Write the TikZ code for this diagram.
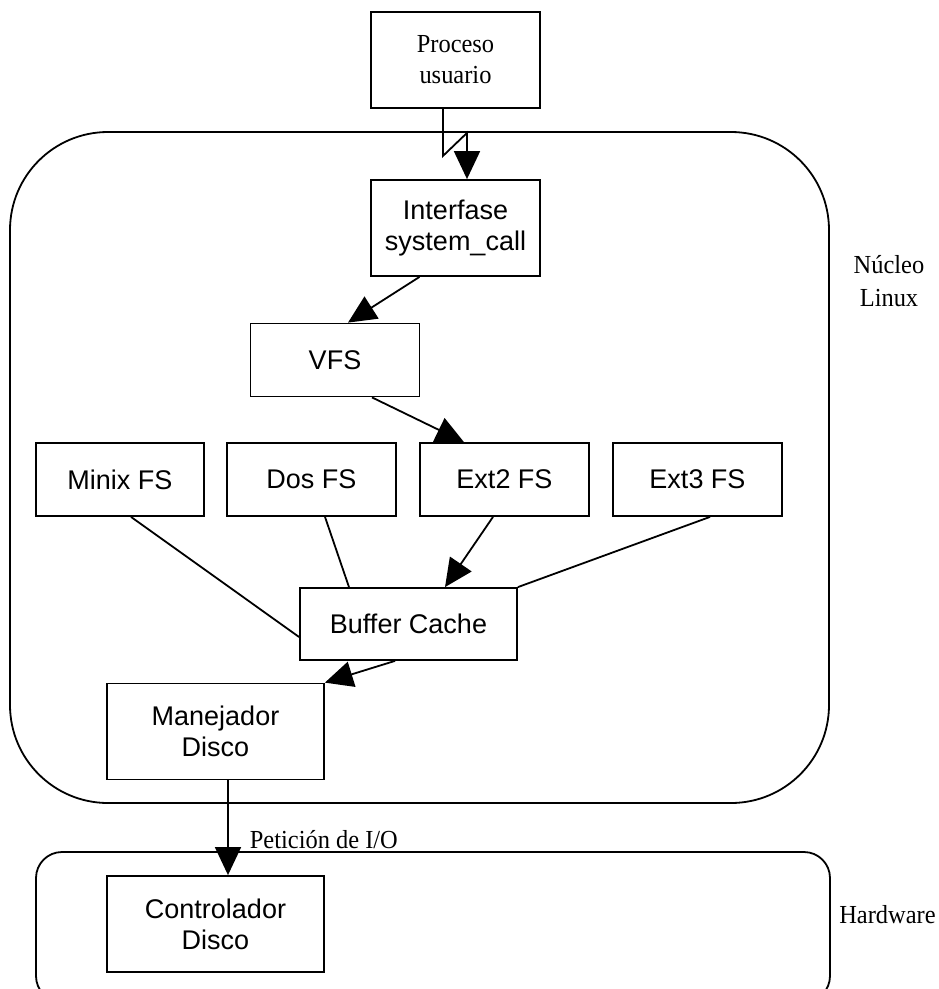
\documentclass[tikz,border=0pt]{standalone}
\usepackage{fontspec}
\setmainfont[FakeStretch=0.94]{Liberation Serif}
\setsansfont{Liberation Sans}
\usetikzlibrary{arrows.meta}
\begin{document}
\begin{tikzpicture}[x=1pt,y=-1pt,line width=1.8pt,
  box/.style={draw,rectangle,inner sep=0pt,align=center,
    font=\sffamily\fontsize{27}{31}\selectfont},
  sbox/.style={draw,rectangle,inner sep=0pt,align=center,
    font=\rmfamily\fontsize{26}{31}\selectfont},
  lbl/.style={inner sep=0pt,align=center,font=\rmfamily\fontsize{26}{33}\selectfont},
  arr/.style={-{Triangle[length=28pt,width=26pt]}},
  cluster/.style={draw,line width=1.8pt}]
\useasboundingbox (0,0) rectangle (939,989);
\clip (0,0) rectangle (939,989);

% kernel and hardware regions
\draw[cluster,rounded corners=98pt] (10,132) rectangle (829,803);
\draw[cluster,rounded corners=26pt] (36,852) rectangle (830,1002);

% components
\node[sbox,minimum width=169pt,minimum height=96pt] (proc) at (455.5,60) {Proceso\\usuario};
\node[box,minimum width=169pt,minimum height=96pt] (interf) at (455.5,228) {Interfase\\system\_call};
\node[box,minimum width=169pt,minimum height=73pt] (vfs) at (335,360) {VFS};
\node[box,minimum width=168pt,minimum height=73pt] (minix) at (120,479.5) {Minix FS};
\node[box,minimum width=169pt,minimum height=73pt] (dos) at (311.5,479.5) {Dos FS};
\node[box,minimum width=169pt,minimum height=73pt] (ext2) at (504.5,479.5) {Ext2 FS};
\node[box,minimum width=169pt,minimum height=73pt] (ext3) at (697.5,479.5) {Ext3 FS};
\node[box,minimum width=217pt,minimum height=72pt] (buf) at (408.5,624) {Buffer Cache};
\node[box,minimum width=217pt,minimum height=96pt] (man) at (215.5,731.5) {Manejador\\Disco};
\node[box,minimum width=217pt,minimum height=96pt] (ctrl) at (215.5,924) {Controlador\\Disco};

% region labels
\node[lbl] (nucleo) at (889,281) {Núcleo\\Linux};
\node[lbl] (hw) at (887.5,915) {Hardware};

% connectors
\draw[arr] ([xshift=-12.5pt]proc.south) -- ++(0,47) -- ++(24,-23) -- ([xshift=11.5pt]interf.north);
\draw[arr] ([xshift=-36pt]interf.south) -- ([xshift=13pt]vfs.north);
\draw[arr] ([xshift=37pt]vfs.south) -- ([xshift=-40.5pt]ext2.north);
\draw[arr] ([xshift=-11.5pt]ext2.south) -- ([xshift=36.5pt]buf.north);
\draw ([xshift=11pt]minix.south) -- ([yshift=-13pt]buf.west);
\draw ([xshift=13.5pt]dos.south) -- ([xshift=-59.5pt]buf.north);
\draw ([xshift=12.5pt]ext3.south) -- (buf.north east);
\draw[arr] ([xshift=-13.5pt]buf.south) -- (man.north east);
\draw[arr] ([xshift=12.5pt]man.south) -- ([xshift=12.5pt]ctrl.north)
  node[pos=0.72,anchor=base west,inner sep=0pt,xshift=21pt,font=\rmfamily\fontsize{26}{30}\selectfont] (io) {Petición de I/O};
\end{tikzpicture}
\end{document}
